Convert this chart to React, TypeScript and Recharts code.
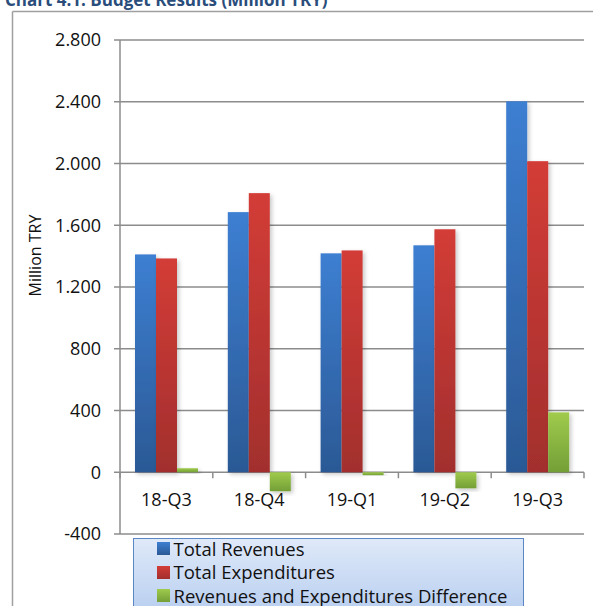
import React from 'react';
import { BarChart, Bar, XAxis, YAxis, CartesianGrid, Legend } from 'recharts';

// chart data
const quarters = ['18-Q3', '18-Q4', '19-Q1', '19-Q2', '19-Q3'];
const totalRevenues = [1411, 1685, 1418, 1470, 2403];
const totalExpenditures = [1385, 1808, 1437, 1574, 2015];
const revExpDifference = [26, -123, -19, -104, 388];
const yTicks = [-400, 0, 400, 800, 1200, 1600, 2000, 2400, 2800];

const seriesNames = ['Total Revenues', 'Total Expenditures', 'Revenues and Expenditures Difference'];
const seriesKeys = ['rev', 'exp', 'diff'];
const seriesGradients = [
  ['#3d7fd2', '#2b5995'],
  ['#d33c37', '#a22f2d'],
  ['#a0cb4c', '#739f37'],
];

const data = quarters.map((q, i) => ({
  q,
  rev: totalRevenues[i],
  exp: totalExpenditures[i],
  diff: revExpDifference[i],
}));

const W = 593;
const H = 606;
const TOP = 40;
const BOTTOM = 534;
const LEFT = 120;
const RIGHT = 584;
const Y_MIN = -400;
const Y_MAX = 2800;
const BAND = (RIGHT - LEFT) / quarters.length;
const yPix = (v: number) => TOP + ((Y_MAX - v) / (Y_MAX - Y_MIN)) * (BOTTOM - TOP);

const FONT = '"Open Sans", "Noto Sans", sans-serif';
const AXIS = '#8c8c8c';

const fmt = (v: number) => {
  const s = Math.abs(v).toString().replace(/\B(?=(\d{3})+(?!\d))/g, '.');
  return v < 0 ? '-' + s : s;
};

function CategoryTick(props: any) {
  const { x, payload, index, visibleTicksCount } = props;
  const y0 = yPix(0);
  const left = x - BAND / 2;
  const right = x + BAND / 2;
  return (
    <g>
      <line x1={left} x2={left} y1={y0} y2={y0 + 6} stroke={AXIS} strokeWidth={1.5} />
      {index === visibleTicksCount - 1 && (
        <line x1={right} x2={right} y1={y0} y2={y0 + 6} stroke={AXIS} strokeWidth={1.5} />
      )}
      <text x={x} y={y0 + 34} textAnchor="middle" fontSize={18} fill="#111" fontFamily={FONT}>
        {payload.value}
      </text>
    </g>
  );
}

function ShadowBar(props: any) {
  const { x, y, width, height, fill } = props;
  if (width == null || height == null) return null;
  const top = height < 0 ? y + height : y;
  return (
    <rect x={x} y={top} width={width} height={Math.abs(height)} fill={fill} filter="url(#barShadow)" />
  );
}

function LegendBox() {
  return (
    <div
      style={{
        boxSizing: 'border-box',
        width: 391,
        height: 80,
        border: '1.5px solid #5b87c2',
        background: 'linear-gradient(#dfe9f9, #b6cdef)',
        paddingLeft: 22.5,
        fontFamily: FONT,
        fontSize: 18.5,
        color: '#111',
      }}
    >
      {seriesNames.map((name, i) => (
        <div key={name} style={{ height: 23.7, lineHeight: '23.7px', display: 'flex', alignItems: 'center', marginTop: i === 0 ? -2.5 : 0 }}>
          <span
            style={{
              display: 'inline-block',
              width: 13,
              height: 13,
              marginRight: 4,
              background: `linear-gradient(${seriesGradients[i][0]}, ${seriesGradients[i][1]})`,
            }}
          />
          <span>{name}</span>
        </div>
      ))}
    </div>
  );
}

export default function App() {
  return (
    <div style={{ position: 'fixed', left: 0, top: 0, width: W, height: H, overflow: 'hidden', background: '#fff' }}>
      <svg width={W} height={H} style={{ position: 'absolute', left: 0, top: 0 }}>
        <text x={5} y={5.5} fontFamily={FONT} fontWeight={700} fontSize={17} fill="#2a4d7c">
          Chart 4.1: Budget Results (Million TRY)
        </text>
        <line x1={12.5} x2={12.5} y1={11.5} y2={H} stroke="#a0a0a0" strokeWidth={1.5} />
        <line x1={12.5} x2={W} y1={11.5} y2={11.5} stroke="#a0a0a0" strokeWidth={1.5} />
      </svg>
      <div style={{ position: 'absolute', left: 0, top: 0 }}>
        <BarChart
          width={W}
          height={H}
          data={data}
          margin={{ top: TOP, right: W - RIGHT, left: 0, bottom: H - BOTTOM - 30 }}
          barCategoryGap={15}
          barGap={0}
          style={{ fontFamily: FONT }}
        >
          <defs>
            {seriesGradients.map((g, i) => (
              <linearGradient key={i} id={`grad${i}`} x1="0" y1="0" x2="0" y2="1">
                <stop offset="0%" stopColor={g[0]} />
                <stop offset="100%" stopColor={g[1]} />
              </linearGradient>
            ))}
            <filter id="barShadow" x="-30%" y="-10%" width="170%" height="130%">
              <feDropShadow dx="2" dy="2" stdDeviation="2" floodColor="#000" floodOpacity="0.22" />
            </filter>
          </defs>
          <CartesianGrid vertical={false} stroke={AXIS} strokeWidth={1.5} />
          <XAxis
            dataKey="q"
            height={30}
            axisLine={false}
            tickLine={false}
            interval={0}
            tick={<CategoryTick />}
          />
          <YAxis
            width={LEFT}
            domain={[Y_MIN, Y_MAX]}
            ticks={yTicks}
            interval={0}
            tickFormatter={fmt}
            axisLine={{ stroke: AXIS, strokeWidth: 1.5 }}
            tickLine={{ stroke: AXIS, strokeWidth: 1.5 }}
            tickSize={6}
            tickMargin={13}
            tick={{ fontSize: 18, fill: '#111', fontFamily: FONT }}
            label={{
              content: () => (
                <text
                  x={34.5}
                  y={255.5}
                  transform="rotate(-90 34.5 255.5)"
                  textAnchor="middle"
                  dominantBaseline="central"
                  fontSize={16}
                  fill="#111"
                  fontFamily={FONT}
                >
                  Million TRY
                </text>
              ),
            }}
          />
          {seriesKeys.map((k, i) => (
            <Bar
              key={k}
              dataKey={k}
              name={seriesNames[i]}
              fill={`url(#grad${i})`}
              shape={<ShadowBar />}
              isAnimationActive={false}
            />
          ))}
          <Legend
            layout="vertical"
            align="center"
            verticalAlign="middle"
            wrapperStyle={{ left: 133, top: 538, width: 391, height: 80 }}
            content={() => <LegendBox />}
          />
        </BarChart>
      </div>
    </div>
  );
}
